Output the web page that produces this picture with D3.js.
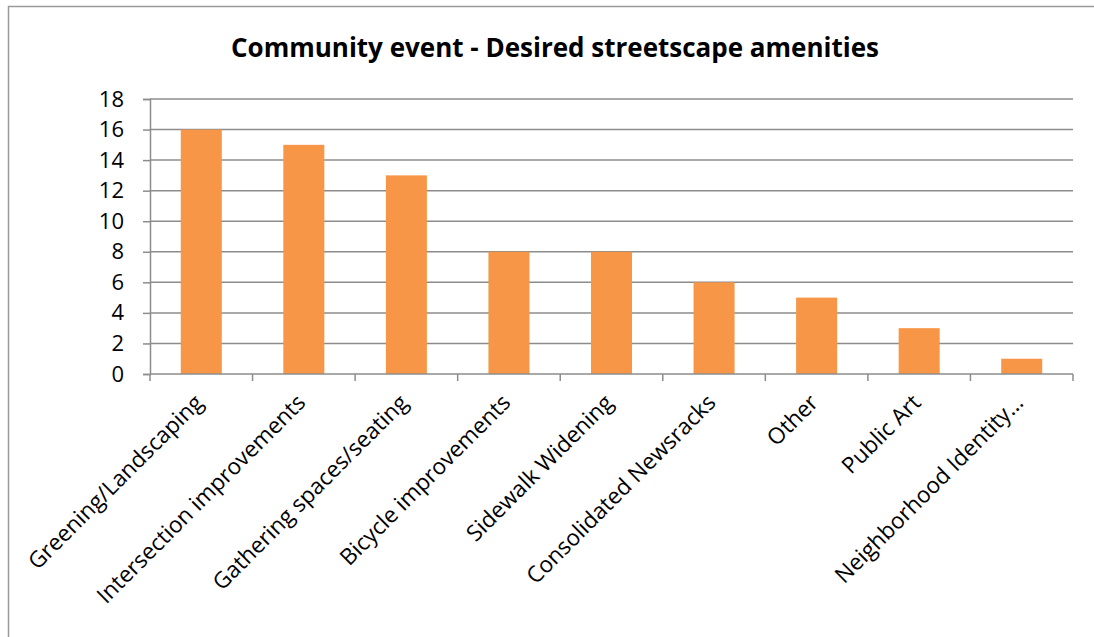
<!DOCTYPE html>
<html>
<head>
<meta charset="utf-8">
<style>
  body { margin: 0; background: #fff; }
  svg text { font-family: "Open Sans", "Noto Sans", sans-serif; fill: #000; }
</style>
</head>
<body>
<svg width="1094" height="637"></svg>
<script src="https://cdn.jsdelivr.net/npm/d3@7/dist/d3.min.js"></script>
<script>
    const categories = [
        "Greening/Landscaping", "Intersection improvements", "Gathering spaces/seating",
        "Bicycle improvements", "Sidewalk Widening", "Consolidated Newsracks",
        "Other", "Public Art", "Neighborhood Identity…"
    ];
    const counts = [16, 15, 13, 8, 8, 6, 5, 3, 1];
    const yTicks = [0, 2, 4, 6, 8, 10, 12, 14, 16, 18];

    const width = 1094, height = 637;
    const margin = { top: 99, right: 21, bottom: 263, left: 150 };
    const gridColor = "#8c8c8c";

    const svg = d3.select("svg");

    // outer chart frame (only left/top visible in the picture)
    svg.append("rect")
        .attr("x", 8.5).attr("y", 6.5)
        .attr("width", width + 10).attr("height", height + 10)
        .attr("fill", "none").attr("stroke", "#9a9a9a").attr("stroke-width", 1.5);

    const x = d3.scaleBand()
        .domain(categories)
        .range([margin.left, width - margin.right])
        .paddingInner(0.6).paddingOuter(0.3);

    const y = d3.scaleLinear()
        .domain([0, 18])
        .range([height - margin.bottom, margin.top]);

    // gridlines
    svg.append("g")
        .selectAll("line")
        .data(yTicks.filter(d => d > 0))
        .join("line")
        .attr("x1", margin.left).attr("x2", width - margin.right)
        .attr("y1", d => y(d)).attr("y2", d => y(d))
        .attr("stroke", gridColor).attr("stroke-width", 1.5);

    // bars
    svg.append("g")
        .selectAll("rect")
        .data(counts)
        .join("rect")
        .attr("x", (d, i) => x(categories[i]))
        .attr("width", x.bandwidth())
        .attr("y", d => y(d))
        .attr("height", d => y(0) - y(d))
        .attr("fill", "#f79646");

    // y axis
    const yAxis = svg.append("g")
        .attr("transform", `translate(${margin.left},0)`)
        .call(d3.axisLeft(y).tickValues(yTicks).tickSize(7).tickPadding(19));
    yAxis.selectAll("path, line").attr("stroke", gridColor).attr("stroke-width", 1.5);
    yAxis.selectAll("text").attr("font-size", 22).style("font-family", "'Open Sans', sans-serif");

    // x axis: ticks at category boundaries
    const bounds = d3.range(categories.length + 1).map(i => margin.left + i * (width - margin.right - margin.left) / categories.length);
    const xAxis = svg.append("g");
    xAxis.append("line")
        .attr("x1", margin.left).attr("x2", width - margin.right)
        .attr("y1", y(0)).attr("y2", y(0))
        .attr("stroke", gridColor).attr("stroke-width", 1.5);
    xAxis.selectAll("line.tick")
        .data(bounds)
        .join("line")
        .attr("class", "tick")
        .attr("x1", d => d).attr("x2", d => d)
        .attr("y1", y(0)).attr("y2", y(0) + 7)
        .attr("stroke", gridColor).attr("stroke-width", 1.5);

    xAxis.selectAll("text")
        .data(categories)
        .join("text")
        .attr("transform", d => `translate(${x(d) + x.bandwidth() / 2 + 3},${y(0) + 30}) rotate(-45)`)
        .attr("text-anchor", "end")
        .attr("font-size", 22.5)
        .text(d => d);

    // title
    svg.append("text")
        .attr("x", 555).attr("y", 57)
        .attr("text-anchor", "middle")
        .attr("font-size", 26)
        .attr("font-weight", "bold")
        .text("Community event - Desired streetscape amenities");
</script>
</body>
</html>
